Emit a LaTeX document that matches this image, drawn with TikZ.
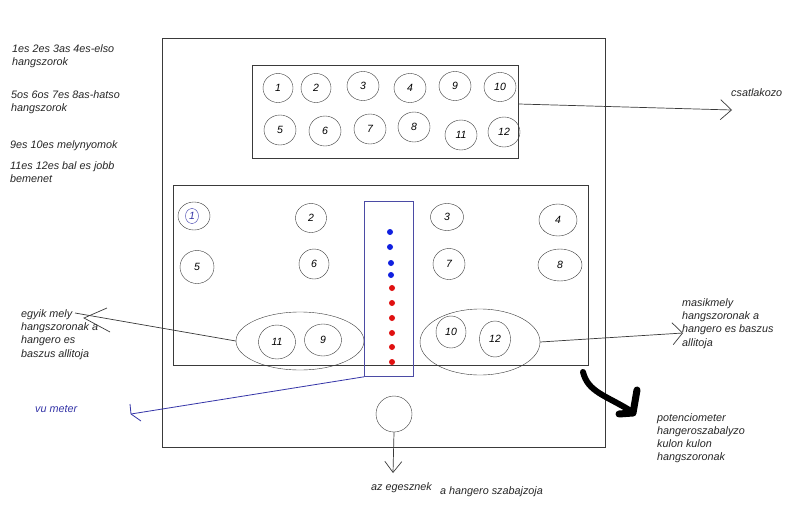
\documentclass[tikz,border=0pt]{standalone}
\usepackage{fontspec}
\setmainfont{Liberation Sans}
\usetikzlibrary{shapes.geometric,arrows.meta}
\definecolor{linec}{HTML}{3A3A3A}
\definecolor{colblue}{HTML}{4B4BA5}
\definecolor{dotblue}{HTML}{1020E0}
\definecolor{dotred}{HTML}{E01010}
\definecolor{vublue}{HTML}{3535A8}
\begin{document}
\begin{tikzpicture}[x=1pt,y=-1pt,
  spk/.style={draw=linec, ellipse, inner sep=0pt, font=\fontsize{10.5}{12}\selectfont\itshape},
  grp/.style={draw=linec, ellipse, inner sep=0pt},
  lbl/.style={anchor=north west, inner sep=0pt, align=left, font=\fontsize{10.8}{13.7}\selectfont\itshape, text=black!85},
  box/.style={draw=linec, line width=0.8pt},
  conn/.style={draw=linec, line width=0.7pt},
  barb/.style={-{Straight Barb[length=11pt,width=20pt]}},
  rdot/.style={circle, fill=dotred, inner sep=0pt, minimum size=6pt},
  bdot/.style={circle, fill=dotblue, inner sep=0pt, minimum size=6pt}]
\useasboundingbox (0,0) rectangle (800,522);
\fill[white] (0,0) rectangle (800,522);

% outer frame and boxes
\draw[box] (162,38) rectangle (605,447);
\node[box, draw, inner sep=0pt, minimum width=266, minimum height=93, anchor=north west] (topbox) at (252,65) {};
\node[box, draw, inner sep=0pt, minimum width=415, minimum height=180, anchor=north west] (lowbox) at (173,185) {};

% top box speakers (connector)
\node[spk, minimum width=30, minimum height=29] (t1) at (278,88) {1};
\node[spk, minimum width=30, minimum height=29] (t2) at (316,88) {2};
\node[spk, minimum width=32, minimum height=29] (t3) at (363,86) {3};
\node[spk, minimum width=32, minimum height=29] (t4) at (410,88) {4};
\node[spk, minimum width=32, minimum height=29] (t9) at (455,86) {9};
\node[spk, minimum width=32, minimum height=29] (t10) at (500,87) {10};
\node[spk, minimum width=32, minimum height=30] (t5) at (280,130) {5};
\node[spk, minimum width=32, minimum height=30] (t6) at (325,131) {6};
\node[spk, minimum width=32, minimum height=30] (t7) at (370,129) {7};
\node[spk, minimum width=32, minimum height=30] (t8) at (414,127) {8};
\node[spk, minimum width=32, minimum height=30] (t11) at (461,135) {11};
\node[spk, minimum width=32, minimum height=30] (t12) at (504,132) {12};

% lower box potentiometers
\node[spk, minimum width=32, minimum height=28] (p1) at (194,216) {};
\node[draw=vublue, ellipse, inner sep=0pt, minimum width=13, minimum height=15, font=\fontsize{10.5}{12}\selectfont\itshape, text=vublue] (p1in) at (192,216) {1};
\node[spk, minimum width=31, minimum height=29] (p2) at (311,218) {2};
\node[spk, minimum width=33, minimum height=27] (p3) at (447,217) {3};
\node[spk, minimum width=38, minimum height=32] (p4) at (558,220) {4};
\node[spk, minimum width=34, minimum height=33] (p5) at (197,267) {5};
\node[spk, minimum width=30, minimum height=30] (p6) at (314,264) {6};
\node[spk, minimum width=32, minimum height=31] (p7) at (449,264) {7};
\node[spk, minimum width=44, minimum height=32] (p8) at (560,265) {8};

\node[grp, minimum width=128, minimum height=58] (ellL) at (300,341) {};
\node[spk, minimum width=37, minimum height=34] (p11) at (277,342) {11};
\node[spk, minimum width=37, minimum height=32] (p9) at (323,340) {9};
\node[grp, minimum width=120, minimum height=66] (ellR) at (480,342) {};
\node[spk, minimum width=30, minimum height=32] (p10) at (451,332) {10};
\node[spk, minimum width=31, minimum height=36] (p12) at (495,339) {12};

% vu meter column
\node[draw=colblue, line width=0.8pt, inner sep=0pt, minimum width=49, minimum height=175, anchor=north west] (col) at (364,201) {};
\node[bdot] (b1) at (390,232) {};
\node[bdot] (b2) at (390,247) {};
\node[bdot] (b3) at (391,263) {};
\node[bdot] (b4) at (391,275) {};
\node[rdot] (r1) at (392,288) {};
\node[rdot] (r2) at (392,303) {};
\node[rdot] (r3) at (392,318) {};
\node[rdot] (r4) at (392,333) {};
\node[rdot] (r5) at (392,347) {};
\node[rdot] (r6) at (392,362) {};

% master volume knob
\node[draw=linec, circle, inner sep=0pt, minimum size=36] (master) at (394,414) {};

% labels
\node[lbl] (l1) at (12,44) {1es 2es 3as 4es-elso\\hangszorok};
\node[lbl] (l2) at (11,90) {5os 6os 7es 8as-hatso\\hangszorok};
\node[lbl] (l3) at (10,140) {9es 10es melynyomok};
\node[lbl] (l4) at (10,161) {11es 12es bal es jobb\\bemenet};
\node[lbl] (lcs) at (731,88) {csatlakozo};
\node[lbl, font=\fontsize{10.8}{13.4}\selectfont\itshape] (lL) at (21,309) {egyik mely\\hangszoronak a\\hangero es\\baszus allitoja};
\node[lbl, text=vublue] (lvu) at (35,405) {vu meter};
\node[lbl, font=\fontsize{10.8}{13.4}\selectfont\itshape] (lR) at (682,298) {masikmely\\hangszoronak a\\hangero es baszus\\allitoja};
\node[lbl, font=\fontsize{10.8}{13.2}\selectfont\itshape] (lP) at (657,413) {potenciometer\\hangeroszabalyzo\\kulon kulon\\hangszoronak};
\node[lbl] (lA) at (371,482) {az egesznek};
\node[lbl] (lB) at (440,486) {a hangero szabajzoja};

% connectors
\coordinate (csTip) at (732,110);
\draw[conn, barb] (topbox.east |- 0,104) -- (csTip);

\coordinate (mTip) at (393,473);
\draw[conn, -{Straight Barb[length=11pt,width=17pt]}] (master.south) -- (mTip);

\coordinate (rTip) at (683,333);
\draw[conn, -{Straight Barb[length=10pt,width=22pt]}] (ellR.east) -- (rTip);

\coordinate (lEnd) at (75,313);
\coordinate (lTip) at (84,318);
\draw[conn] (ellL.west) -- (lEnd);
\draw[conn] (107,308) -- (lTip) -- (110,332);

\coordinate (vuTip) at (131,414);
\draw[vublue, line width=0.8pt] (col.south west) -- (vuTip);
\draw[vublue, line width=0.8pt] (130,404) -- (vuTip) -- (141,421);

% thick hand-drawn arrow
\draw[black, line width=6pt, line cap=round, line join=round]
  (583,372) .. controls (588,392) and (605,395) .. (631,411);
\draw[black, line width=7pt, line cap=round, line join=round]
  (637,390) -- (633,413) -- (619,414);
\end{tikzpicture}
\end{document}
